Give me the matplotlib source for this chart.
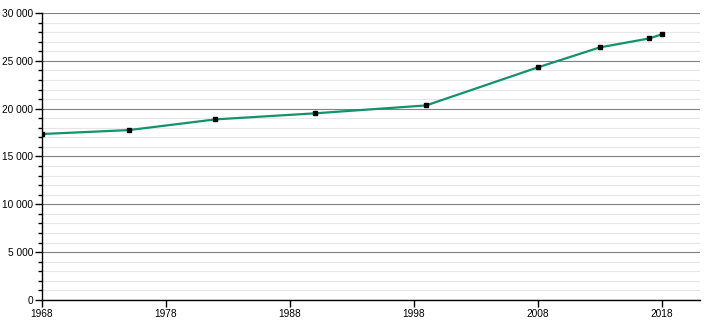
import matplotlib
matplotlib.use('Agg')
import matplotlib.pyplot as plt
from matplotlib.ticker import MultipleLocator, FuncFormatter

years = [1968, 1975, 1982, 1990, 1999, 2008, 2013, 2017, 2018]
population = [17350, 17760, 18880, 19510, 20340, 24310, 26400, 27340, 27760]
x_ticks = [1968, 1978, 1988, 1998, 2008, 2018]

LINE_COLOR = '#12936c'

plt.rcParams['font.family'] = ['Liberation Sans', 'DejaVu Sans']

fig = plt.figure(figsize=(7.1, 3.2), dpi=100)
ax = fig.add_axes([42 / 710, 20 / 320, 658 / 710, 287 / 320])

ax.plot(years, population, color=LINE_COLOR, linewidth=1.6, zorder=3)
ax.plot(years, population, 's', color='black', markersize=3.5, zorder=4)

ax.set_xlim(1968, 2021.1)
ax.set_ylim(0, 30000)
ax.set_xticks(x_ticks)
ax.yaxis.set_major_locator(MultipleLocator(5000))
ax.yaxis.set_minor_locator(MultipleLocator(1000))
ax.yaxis.set_major_formatter(FuncFormatter(lambda v, p: f'{int(v):,}'.replace(',', ' ')))

ax.grid(which='major', axis='y', color='#808080', linewidth=0.8, zorder=1)
ax.grid(which='minor', axis='y', color='#e6e6e6', linewidth=0.8, zorder=0)
ax.set_axisbelow(True)

for side in ['top', 'right']:
    ax.spines[side].set_visible(False)
for side in ['left', 'bottom']:
    ax.spines[side].set_linewidth(1.0)
    ax.spines[side].set_color('black')

ax.tick_params(axis='both', which='major', length=5, width=1, labelsize=7.3, pad=1.5)
ax.tick_params(axis='y', which='minor', length=3, width=1)

fig.savefig('out.png', dpi=100)
